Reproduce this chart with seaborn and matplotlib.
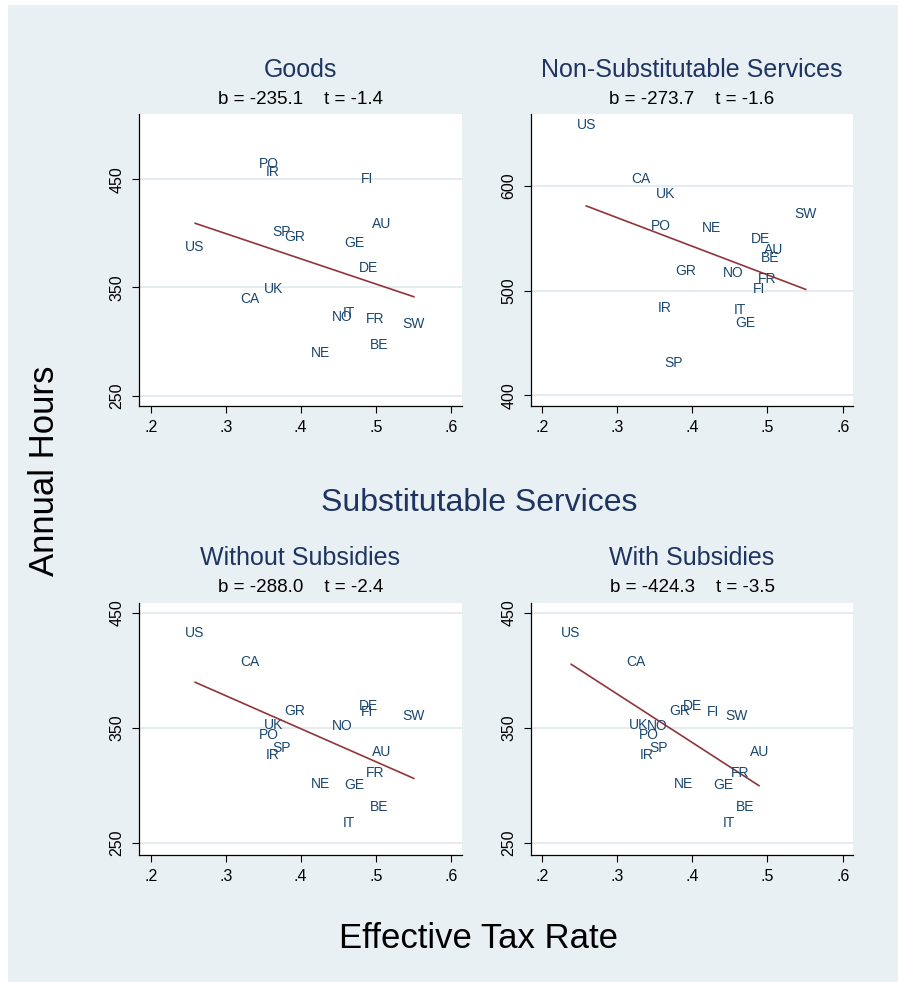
import numpy as np
import pandas as pd
import matplotlib
matplotlib.use("Agg")
import matplotlib.pyplot as plt
import seaborn as sns
from matplotlib.patches import Rectangle

# country codes and values
countries = ["US", "CA", "UK", "PO", "IR", "SP", "GR", "NE", "NO",
             "IT", "GE", "FI", "DE", "AU", "BE", "FR", "SW"]
tax_rate = [0.259, 0.332, 0.364, 0.358, 0.363, 0.375, 0.392, 0.426, 0.455,
            0.464, 0.471, 0.489, 0.491, 0.508, 0.504, 0.499, 0.551]
tax_rate_subsidy = [0.239, 0.325, 0.329, 0.343, 0.339, 0.355, 0.383, 0.388, 0.354,
                    0.449, 0.442, 0.428, 0.400, 0.489, 0.471, 0.464, 0.459]
hours_goods = [387.5, 339.2, 348.8, 464.0, 457.0, 401.0, 397.0, 289.4, 322.6,
               326.0, 391.0, 450.0, 367.8, 409.0, 296.8, 321.0, 316.5]
hours_nonsub = [658.0, 606.3, 592.0, 561.9, 482.9, 430.5, 519.0, 560.0, 516.5,
                481.9, 468.6, 501.3, 549.5, 539.0, 531.0, 511.4, 573.3]
hours_sub = [432.9, 407.1, 352.3, 344.2, 326.2, 332.6, 364.8, 301.0, 351.2,
             266.8, 300.1, 363.6, 369.4, 329.4, 281.3, 310.9, 360.1]

panel_titles = ["Goods", "Non-Substitutable Services",
                "Without Subsidies", "With Subsidies"]
panel_stats = ["b = -235.1    t = -1.4", "b = -273.7    t = -1.6",
               "b = -288.0    t = -2.4", "b = -424.3    t = -3.5"]
y_ticks_goods = [250, 350, 450]
y_ticks_nonsub = [400, 500, 600]
y_ticks_sub = [250, 350, 450]
x_ticks = [0.2, 0.3, 0.4, 0.5, 0.6]
x_tick_labels = [".2", ".3", ".4", ".5", ".6"]

BG = "#e9f0f3"
GRID = "#e3ebee"
NAVY = "#1a476f"
TITLE = "#1e3461"
MAROON = "#90353b"

sns.set_theme(style="white")
plt.rcParams["font.family"] = ["Liberation Sans", "DejaVu Sans"]

W, H = 898, 982
fig = plt.figure(figsize=(W / 100, H / 100), dpi=100, facecolor="white")
fig.patches.append(Rectangle((8 / W, 0), 1, 1 - 5 / H, transform=fig.transFigure,
                             facecolor=BG, edgecolor="none", zorder=-10))


def px_rect(left, top, right, bottom):
    return [left / W, 1 - bottom / H, (right - left) / W, (bottom - top) / H]


panels = [
    (px_rect(139, 114, 462, 406), tax_rate, hours_goods, y_ticks_goods, (240.5, 510.3), (0.1844, 0.615)),
    (px_rect(531, 114, 853, 406), tax_rate, hours_nonsub, y_ticks_nonsub, (389.8, 668.6), (0.1858, 0.6137)),
    (px_rect(139, 603, 462, 855), tax_rate, hours_sub, y_ticks_sub, (239.3, 458.7), (0.1844, 0.615)),
    (px_rect(531, 603, 853, 855), tax_rate_subsidy, hours_sub, y_ticks_sub, (239.3, 458.7), (0.1858, 0.6137)),
]
title_y = [70, 70, 558, 558]
stats_y = [99, 99, 587, 587]

for i, (rect, xs, ys, yticks, ylim, xlim) in enumerate(panels):
    df = pd.DataFrame({"country": countries, "tax": xs, "hours": ys})
    ax = fig.add_axes(rect)
    ax.set_facecolor("white")

    # OLS fit line, then the country codes as marker labels
    sns.regplot(data=df, x="tax", y="hours", scatter=False, ci=None, truncate=True,
                ax=ax, line_kws=dict(color=MAROON, lw=1.2))
    for _, r in df.iterrows():
        ax.text(r["tax"], r["hours"], r["country"], ha="center", va="center",
                fontsize=10, color=NAVY)

    ax.set_xlim(*xlim)
    ax.set_ylim(*ylim)
    ax.set_xticks(x_ticks)
    ax.set_xticklabels(x_tick_labels)
    ax.set_yticks(yticks)
    ax.set_yticklabels([str(t) for t in yticks], rotation=90, va="center")
    ax.set_xlabel("")
    ax.set_ylabel("")
    ax.yaxis.grid(True, color=GRID, lw=1.3)
    ax.xaxis.grid(False)
    ax.set_axisbelow(True)
    for s in ["top", "right"]:
        ax.spines[s].set_visible(False)
    for s in ["left", "bottom"]:
        ax.spines[s].set_color("black")
        ax.spines[s].set_linewidth(0.9)
    ax.tick_params(axis="both", direction="out", length=5, width=0.8,
                   color="black", labelsize=11.5, labelcolor="black",
                   left=True, bottom=True)
    ax.tick_params(axis="y", pad=5.5)
    ax.tick_params(axis="x", pad=5)

    cx = (rect[0] + rect[2] / 2)
    fig.text(cx, 1 - title_y[i] / H, panel_titles[i], ha="center", va="center",
             fontsize=18, color=TITLE)
    fig.text(cx, 1 - stats_y[i] / H, panel_stats[i], ha="center", va="center",
             fontsize=13.5, color="black")

fig.text(479 / W, 1 - 503 / H, "Substitutable Services", ha="center", va="center",
         fontsize=23, color=TITLE)
fig.text(45 / W, 1 - 471 / H, "Annual Hours", ha="center", va="center",
         rotation=90, fontsize=25, color="black")
fig.text(479 / W, 1 - 938 / H, "Effective Tax Rate", ha="center", va="center",
         fontsize=25, color="black")

fig.savefig("out.png", dpi=100, facecolor=fig.get_facecolor())
